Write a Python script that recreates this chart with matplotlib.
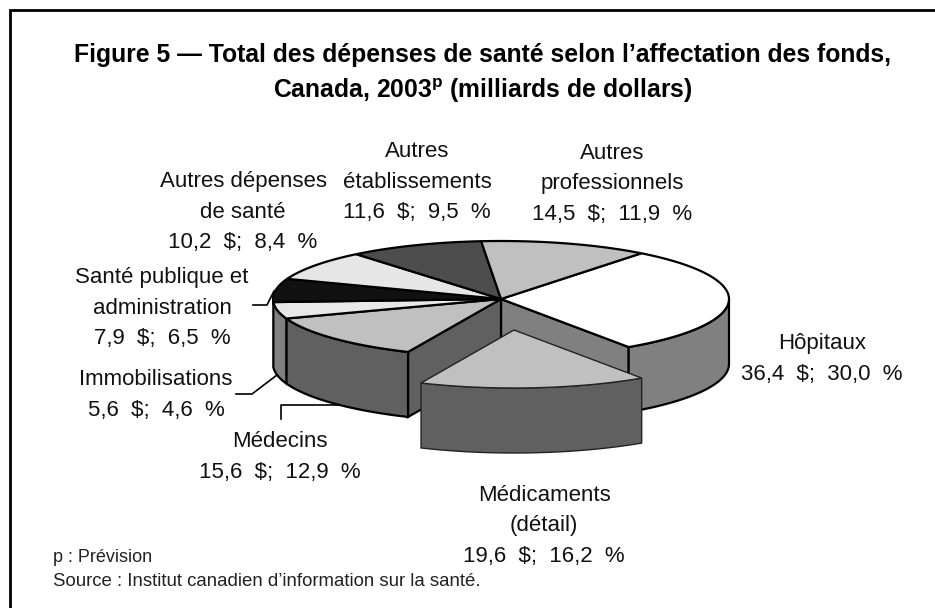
import numpy as np
import matplotlib
matplotlib.use('Agg')
import matplotlib.pyplot as plt
from matplotlib.patches import Polygon

plt.rcParams['font.family'] = ['Liberation Sans', 'DejaVu Sans']

# Données : milliards de dollars, part en %
categories = ['Hôpitaux', 'Médicaments', 'Médecins', 'Immobilisations',
              'Santé publique', 'Autres dépenses', 'Autres établissements',
              'Autres professionnels']
values = [36.4, 19.6, 15.6, 5.6, 7.9, 10.2, 11.6, 14.5]
top_colors = ['#ffffff', '#c0c0c0', '#c0c0c0', '#e8e8e8', '#111111', '#e6e6e6', '#4d4d4d', '#c0c0c0']
side_colors = ['#808080', '#606060', '#606060', '#808080', '#333333', '#808080', '#333333', '#808080']

title_lines = ['Figure 5 — Total des dépenses de santé selon l’affectation des fonds,',
               'Canada, 2003$^{\\mathregular{p}}$ (milliards de dollars)']
labels = [('Hôpitaux\n36,4  \\$;  30,0  %', 822, 359),
          ('Médicaments\n(détail)\n19,6  \\$;  16,2  %', 544, 526),
          ('Médecins\n15,6  \\$;  12,9  %', 280, 457),
          ('Immobilisations\n5,6  \\$;  4,6  %', 156, 395),
          ('Santé publique et\nadministration\n7,9  \\$;  6,5  %', 162, 308),
          ('Autres dépenses\nde santé\n10,2  \\$;  8,4  %', 243, 212),
          ('Autres\nétablissements\n11,6  \\$;  9,5  %', 417, 182),
          ('Autres\nprofessionnels\n14,5  \\$;  11,9  %', 612, 184)]

# géométrie du camembert, en pixels de l'image
cx, cy = 501, 299
rx, ry = 228, 58
depth = 65
start = 52.0
explode = (13, 31)

fig = plt.figure(figsize=(9.35, 6.08), dpi=100)
ax = fig.add_axes([0, 0, 1, 1])
ax.set_xlim(0, 935)
ax.set_ylim(608, 0)
ax.axis('off')

# cadre : seulement en haut et à gauche
ax.plot([9.5, 9.5, 935], [608, 9.5, 9.5], color='black', lw=2, solid_joinstyle='miter')


def arc(a1, a2, n=60, off=(0, 0)):
    t = np.radians(np.linspace(a1, a2, n))
    return np.column_stack([cx + off[0] + rx * np.cos(t), cy + off[1] - ry * np.sin(t)])


shares = np.array(values) / sum(values) * 360
edges = start - np.concatenate([[0], np.cumsum(shares)])


def side(a1, a2, color, off=(0, 0), lw=1.6, z=2):
    # seulement la moitié avant du bord
    a1, a2 = max(a1, -180), min(a2, 0)
    p = arc(a1, a2, off=off)
    ax.add_patch(Polygon(np.vstack([p, p[::-1] + [0, depth]]), closed=True,
                         fc=color, ec='black', lw=lw, zorder=z))


def radial(a, color, z=2):
    p = arc(a, a, 2)[0]
    c = np.array([cx, cy])
    ax.add_patch(Polygon([c, p, p + [0, depth], c + [0, depth]], closed=True,
                         fc=color, ec='black', lw=1.6, zorder=z))


# faces internes révélées par la part détachée
radial(edges[1], side_colors[0])
radial(edges[2], side_colors[2])

# côtés extérieurs visibles
for i in [0, 2, 3]:
    side(edges[i + 1], edges[i], side_colors[i], z=3)

# dessus
for i in range(len(values)):
    if i == 1:
        continue
    p = arc(edges[i + 1], edges[i])
    ax.add_patch(Polygon(np.vstack([[cx, cy], p]), closed=True, fc=top_colors[i],
                         ec='black', lw=1.6, zorder=4))

# Médicaments, détachée
p = arc(edges[2], edges[1], off=explode)
ax.add_patch(Polygon(np.vstack([p, p[::-1] + [0, depth]]), closed=True,
                     fc=side_colors[1], ec='#222222', lw=1, zorder=5))
ax.add_patch(Polygon(np.vstack([[cx + explode[0], cy + explode[1]], p]), closed=True,
                     fc=top_colors[1], ec='#222222', lw=1, zorder=6))

# traits de rappel
leader_x = [[253, 267, 274], [236, 252, 277], [281, 281, 338]]
leader_y = [[305, 305, 291], [394, 394, 375], [419, 405, 405]]
for lx, ly in zip(leader_x, leader_y):
    ax.plot(lx, ly, color='black', lw=1.2, zorder=7)

ax.text(483, 55, title_lines[0], ha='center', va='center', fontsize=17.8, fontweight='bold')
ax.text(483, 91, title_lines[1], ha='center', va='center', fontsize=17.8, fontweight='bold')

for txt, x, y in labels:
    ax.text(x, y, txt, ha='center', va='center', fontsize=16, linespacing=1.6, color='#111111')

ax.text(53, 557, 'p : Prévision', fontsize=13, va='center', color='#222222')
ax.text(53, 581, 'Source : Institut canadien d’information sur la santé.', fontsize=13.4,
        va='center', color='#222222')

fig.savefig('out.png', dpi=100)
